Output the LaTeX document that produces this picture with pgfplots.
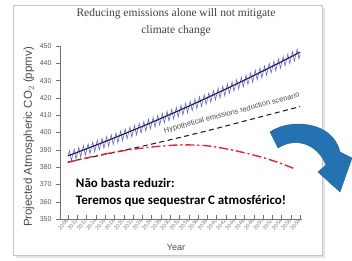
\documentclass[border=0pt]{standalone}
\usepackage{pgfplots}
\pgfplotsset{compat=1.18}
\usepackage{fontspec}
\setmainfont{Liberation Sans}
\newfontfamily\serifttl{Liberation Serif}
\newfontfamily\calibri{Carlito}
\definecolor{arrowblue}{RGB}{37,114,178}
\definecolor{zig}{RGB}{100,100,205}
\definecolor{trend}{RGB}{25,25,80}
\definecolor{redline}{RGB}{225,40,50}
\begin{document}
\begin{tikzpicture}
\useasboundingbox (0pt,0pt) rectangle (352pt,261pt);
\fill[white] (0pt,0pt) rectangle (352pt,261pt);
\fill[black!10] (16pt,3pt) rectangle (325pt,253pt);
\fill[white,draw=black!22] (13pt,6pt) rectangle (322pt,256pt);
\node[font=\serifttl\fontsize{11.5}{17}\selectfont, text=black!75, align=center] at (176pt,238.5pt) {Reducing emissions alone will not mitigate\\climate change};
\begin{axis}[
  at={(60pt,42pt)}, anchor=south west, scale only axis,
  width=242pt, height=173pt,
  xmin=2006.3, xmax=2058.4, ymin=350, ymax=450,
  axis x line*=bottom, axis y line*=left,
  axis line style={black!55},
  tick align=inside, major tick length=4pt, minor tick length=3pt,
  every major y tick/.append style={xshift=-4pt},
  tick style={black!55},
  ytick={350,360,...,450},
  xtick={2008,2010,...,2058}, minor x tick num=1,
  /pgf/number format/1000 sep={},
  /pgf/number format/assume math mode=true,
  yticklabel style={font=\fontsize{7}{8}\selectfont, text=black!65, xshift=-5pt},
  xticklabel style={font=\fontsize{5.5}{6}\selectfont, text=black!50, rotate=50, anchor=east, inner sep=1pt},
  xlabel={Year}, ylabel={Projected Atmospheric CO$_2$ (ppmv)},
  xlabel style={font=\fontsize{9}{10}\selectfont, text=black!70, at={(rel axis cs:0.479,-0.165)}, anchor=center},
  ylabel style={font=\fontsize{11.5}{12}\selectfont, text=black!70, at={(rel axis cs:-0.128,0.474)}, anchor=center},
  clip=false,
]
\addplot[zig, line width=0.6pt] coordinates {
(2008.0,386.5)
(2008.35,389.4)(2008.75,383.8)(2009.35,390.4)(2009.75,384.8)
(2010.35,391.4)(2010.75,385.8)(2011.35,392.4)(2011.75,386.8)
(2012.35,393.4)(2012.75,387.8)(2013.35,394.5)(2013.75,388.9)
(2014.35,395.5)(2014.75,389.9)(2015.35,396.6)(2015.75,391.0)
(2016.35,397.6)(2016.75,392.1)(2017.35,398.7)(2017.75,393.1)
(2018.35,399.8)(2018.75,394.2)(2019.35,400.9)(2019.75,395.3)
(2020.35,402.0)(2020.75,396.4)(2021.35,403.1)(2021.75,397.5)
(2022.35,404.2)(2022.75,398.6)(2023.35,405.3)(2023.75,399.7)
(2024.35,406.4)(2024.75,400.9)(2025.35,407.6)(2025.75,402.0)
(2026.35,408.7)(2026.75,403.2)(2027.35,409.8)(2027.75,404.3)
(2028.35,411.0)(2028.75,405.5)(2029.35,412.2)(2029.75,406.6)
(2030.35,413.3)(2030.75,407.8)(2031.35,414.5)(2031.75,409.0)
(2032.35,415.7)(2032.75,410.2)(2033.35,416.9)(2033.75,411.4)
(2034.35,418.1)(2034.75,412.6)(2035.35,419.3)(2035.75,413.8)
(2036.35,420.6)(2036.75,415.1)(2037.35,421.8)(2037.75,416.3)
(2038.35,423.0)(2038.75,417.5)(2039.35,424.3)(2039.75,418.8)
(2040.35,425.5)(2040.75,420.0)(2041.35,426.8)(2041.75,421.3)
(2042.35,428.1)(2042.75,422.6)(2043.35,429.3)(2043.75,423.9)
(2044.35,430.6)(2044.75,425.2)(2045.35,431.9)(2045.75,426.4)
(2046.35,433.2)(2046.75,427.8)(2047.35,434.5)(2047.75,429.1)
(2048.35,435.9)(2048.75,430.4)(2049.35,437.2)(2049.75,431.7)
(2050.35,438.5)(2050.75,433.1)(2051.35,439.9)(2051.75,434.4)
(2052.35,441.2)(2052.75,435.8)(2053.35,442.6)(2053.75,437.1)
(2054.35,443.9)(2054.75,438.5)(2055.35,445.3)(2055.75,439.9)
(2056.35,446.7)(2056.75,441.3)(2057.35,448.1)(2057.75,442.6)
(2058.0,445.5)
};
\addplot[trend, line width=1.1pt, smooth] coordinates {
(2008,386.5)(2013,391.6)(2018,396.9)(2023,402.4)(2028,408.1)(2033,414.0)
(2038,420.1)(2043,426.4)(2048,432.9)(2053,439.6)(2058,446.5)
};
\addplot[black!85, line width=1.1pt, dash pattern=on 5pt off 3.5pt, smooth] coordinates {
(2008,383)(2018,388.5)(2028,394.5)(2038,401)(2048,408)(2058,415)
};
\addplot[redline, line width=1.4pt, dash pattern=on 9pt off 3pt on 2pt off 3pt, smooth] coordinates {
(2008,382.7)(2014,386.5)(2020,389.5)(2026,391.6)(2032,392.8)(2038,392.3)
(2044,389.5)(2050,385.5)(2054,382)(2057,378.8)
};
\node[font=\fontsize{7.5}{8}\selectfont, text=black!70, rotate=15] at (axis cs:2043.3,411.2) {Hypothetical emissions reduction scenario};
\node[anchor=west, font=\calibri\bfseries\fontsize{13}{14}\selectfont, inner sep=0pt] at (axis cs:2009.7,370.8) {Não basta reduzir:};
\node[anchor=west, font=\calibri\bfseries\fontsize{13}{14}\selectfont, inner sep=0pt] at (axis cs:2009.7,360.4) {Teremos que sequestrar C atmosférico!};
\end{axis}
\fill[arrowblue, draw=arrowblue!85!black, line width=0.4pt]
  (270pt,129pt) .. controls (290pt,143pt) and (333pt,140pt) .. (340pt,109pt)
  -- (352pt,103pt) -- (340pt,69pt) -- (318pt,89pt) -- (326pt,96pt)
  .. controls (317pt,118pt) and (295pt,124pt) .. (278pt,113pt) -- cycle;
\end{tikzpicture}
\end{document}
